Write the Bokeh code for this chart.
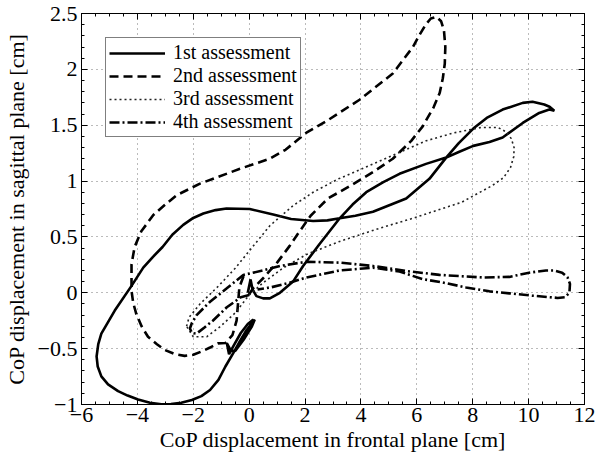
from bokeh.plotting import figure
from bokeh.models import Range1d, LinearAxis, SingleIntervalTicker
from bokeh.embed import file_html
from bokeh.resources import INLINE

labels = ["1st assessment", "2nd assessment", "3rd assessment", "4th assessment"]

x1 = [-0.05, 0.05, 0.12, 0.26, 0.5, 0.74, 1.1, 1.33, 1.57, 1.93, 2.5, 3.24, 3.7, 4.19, 4.8, 5.38, 6.33,
      7.05, 7.5, 8.02, 8.6, 9.07, 9.79, 10.38, 10.74, 10.92, 10.75, 10.56, 10.14, 9.79, 9.07, 8.5, 8.02, 7.5,
      7.05, 6.45, 5.62, 4.43, 3.8, 3.24, 2.8, 2.29, 1.5, 0.86, 0.02, -0.81, -1.2, -1.64, -2.0, -2.36,
      -2.75, -3.1, -3.45, -3.79, -4.21, -4.81, -5.29, -5.4, -5.46, -5.42, -5.29, -5.05, -4.69, -4.35,
      -3.975, -3.55, -3.14, -2.8, -2.43, -2.05, -1.71, -1.4, -1.1, -0.85, -0.57, -0.3, -0.096, 0.2,
      0.1, -0.2, -0.5, -0.65, -0.8, -0.72, -0.55, -0.3, -0.05, 0.15]
y1 = [0.0, 0.12, 0.03, -0.03, -0.05, -0.05, 0.0, 0.05, 0.1, 0.24, 0.43, 0.667, 0.79, 0.9, 0.99, 1.065, 1.154,
      1.21, 1.26, 1.315, 1.35, 1.39, 1.52, 1.61, 1.64, 1.63, 1.665, 1.685, 1.71, 1.70, 1.64, 1.565, 1.47, 1.34,
      1.21, 1.02, 0.844, 0.725, 0.69, 0.667, 0.648, 0.643, 0.66, 0.7, 0.75, 0.755, 0.74, 0.71, 0.67, 0.608,
      0.52, 0.41, 0.32, 0.225, 0.062, -0.159, -0.365, -0.46, -0.57, -0.66, -0.748, -0.82, -0.88, -0.92,
      -0.955, -0.985, -0.999, -0.995, -0.984, -0.96, -0.925, -0.87, -0.78, -0.66, -0.54, -0.42, -0.335, -0.24,
      -0.3, -0.42, -0.52, -0.52, -0.45, -0.55, -0.47, -0.36, -0.28, -0.24]

x2 = [-0.2, -0.35, -0.4, -0.45, -0.6, -0.85, -1.12, -1.4, -1.71, -2.0, -2.31, -2.65, -3.02, -3.3, -3.62,
      -3.85, -4.04, -4.15, -4.21, -4.21, -4.1, -3.86, -3.43, -3.0, -2.6, -1.76, -0.33, 0.74, 1.3, 2.05, 2.76,
      3.95, 5.14, 5.86, 6.1, 6.33, 6.5, 6.7, 6.87, 6.97, 7.02, 7.0, 6.93, 6.82, 6.6, 6.21, 5.8, 5.14, 4.43,
      3.7, 2.82, 2.2, 1.75, 1.45, 1.0, 0.5, 0.14, -0.1]
y2 = [0.15, 0.05, -0.1, -0.25, -0.38, -0.45, -0.453, -0.49, -0.526, -0.555, -0.565, -0.55, -0.512, -0.46,
      -0.394, -0.3, -0.188, -0.09, 0.018, 0.254, 0.41, 0.55, 0.696, 0.79, 0.873, 0.977, 1.11, 1.2, 1.28, 1.433, 1.536,
      1.728, 1.963, 2.2, 2.31, 2.405, 2.455, 2.47, 2.43, 2.35, 2.2, 2.05, 1.92, 1.79, 1.66, 1.49, 1.36, 1.2,
      1.08, 0.97, 0.844, 0.69, 0.53, 0.42, 0.27, 0.13, 0.04, -0.05]

x3 = [-2.24, -2.15, -1.76, -1.1, -0.5, 0.02, 0.74, 1.57, 2.29, 3.2, 3.95, 5.14, 6.33, 7.3, 8.3, 8.9,
      9.2, 9.38, 9.48, 9.47, 9.35, 9.1, 8.7, 7.6, 6.5, 5.86, 4.67, 3.24, 2.05, 1.2, 0.5, 0.0, -0.5,
      -1.05, -1.52, -2.0, -2.24]
y3 = [-0.3, -0.22, -0.1, 0.06, 0.22, 0.38, 0.6, 0.78, 0.9, 1.02, 1.1, 1.23, 1.36, 1.43, 1.48, 1.48,
      1.44, 1.38, 1.3, 1.22, 1.12, 1.03, 0.96, 0.81, 0.72, 0.667, 0.578, 0.46, 0.343, 0.22, 0.09, -0.02,
      -0.18, -0.306, -0.394, -0.394, -0.3]

x4 = [0.0, -0.3, -0.8, -1.3, -1.6, -1.88, -2.05, -2.12, -2.05, -1.88, -1.4, -0.8, -0.21, 0.5, 1.1, 2.05,
      3.24, 4.43, 5.62, 6.81, 8.36, 9.31, 10.02, 10.62, 10.9, 11.2, 11.39, 11.48, 11.46, 11.3, 11.04,
      10.14, 9.31, 8.6, 7.76, 6.93, 6.21, 5.38, 4.43, 3.24, 2.05, 1.45, 0.8, 0.3]
y4 = [-0.02, -0.04, -0.13, -0.25, -0.31, -0.365, -0.36, -0.32, -0.27, -0.2, -0.08, 0.04, 0.16, 0.2, 0.24,
      0.278, 0.27, 0.24, 0.195, 0.16, 0.137, 0.142, 0.18, 0.2, 0.2, 0.18, 0.14, 0.08, 0.0, -0.04, -0.046,
      -0.026, -0.005, 0.013, 0.048, 0.092, 0.122, 0.19, 0.225, 0.2, 0.137, 0.09, 0.05, 0.03]

x_ticks = [-6, -4, -2, 0, 2, 4, 6, 8, 10, 12]
y_ticks = [-1, -0.5, 0, 0.5, 1, 1.5, 2, 2.5]

FONT = "Liberation Serif"
FS = "22px"

p = figure(width=600, height=458, output_backend="svg", toolbar_location=None,
           x_range=Range1d(-6, 12), y_range=Range1d(-1, 2.5),
           min_border_left=80, min_border_right=16, min_border_top=13, min_border_bottom=54)

p.line(x1, y1, line_color="black", line_width=2.6, legend_label=labels[0])
p.line(x2, y2, line_color="black", line_width=2.6, line_dash="9 5", legend_label=labels[1])
p.line(x3, y3, line_color="#222222", line_width=1.6, line_dash="2 3", legend_label=labels[2])
p.line(x4, y4, line_color="black", line_width=2.6, line_dash="10 3 2 3", legend_label=labels[3])

xt = SingleIntervalTicker(interval=2, num_minor_ticks=4)
yt = SingleIntervalTicker(interval=0.5, num_minor_ticks=5)

def fmt(v):
    s = ("%g" % v)
    return s.replace("-", "\u2212")

for ax, t, ticks in ((p.xaxis[0], xt, x_ticks), (p.yaxis[0], yt, y_ticks)):
    ax.ticker = t
    ax.major_label_overrides = {v: fmt(v) for v in ticks}
    ax.major_label_text_font = FONT
    ax.major_label_text_font_size = FS
    ax.major_label_text_color = "black"
    ax.axis_label_text_font = FONT
    ax.axis_label_text_font_size = FS
    ax.axis_label_text_font_style = "normal"
    ax.axis_label_text_color = "black"
    ax.major_tick_in = 6
    ax.major_tick_out = 0
    ax.minor_tick_in = 3
    ax.minor_tick_out = 0
    ax.axis_line_color = "black"
    ax.major_tick_line_color = "black"
    ax.minor_tick_line_color = "black"

p.xaxis[0].axis_label = "CoP displacement in frontal plane [cm]"
p.yaxis[0].axis_label = "CoP displacement in sagittal plane [cm]"
p.xaxis[0].major_label_standoff = 3
p.xaxis[0].axis_label_standoff = 2
p.yaxis[0].major_label_standoff = 4
p.yaxis[0].axis_label_standoff = 6

for loc, t, ticks in (("above", xt, x_ticks), ("right", yt, y_ticks)):
    ax = LinearAxis(ticker=t, major_tick_in=6, major_tick_out=0,
                    minor_tick_in=3, minor_tick_out=0, axis_line_color="black",
                    major_label_standoff=0)
    ax.major_label_overrides = {v: "" for v in ticks}
    p.add_layout(ax, loc)

for g in (p.xgrid[0], p.ygrid[0]):
    g.grid_line_color = "#777777"
    g.grid_line_dash = "1 4"
    g.grid_line_width = 1
p.xgrid[0].ticker = xt
p.ygrid[0].ticker = yt

p.outline_line_color = "black"
p.background_fill_color = "white"
p.border_fill_color = "white"

lg = p.legend[0]
lg.location = "top_left"
lg.margin = 24
lg.padding = 3
lg.spacing = 0
lg.glyph_width = 56
lg.glyph_height = 18
lg.label_height = 18
lg.label_standoff = 8
lg.label_text_font = FONT
lg.label_text_font_size = "20px"
lg.label_text_color = "black"
lg.border_line_color = "black"
lg.border_line_width = 1.2
lg.background_fill_alpha = 1

open("out.html", "w").write(file_html(p, INLINE))
